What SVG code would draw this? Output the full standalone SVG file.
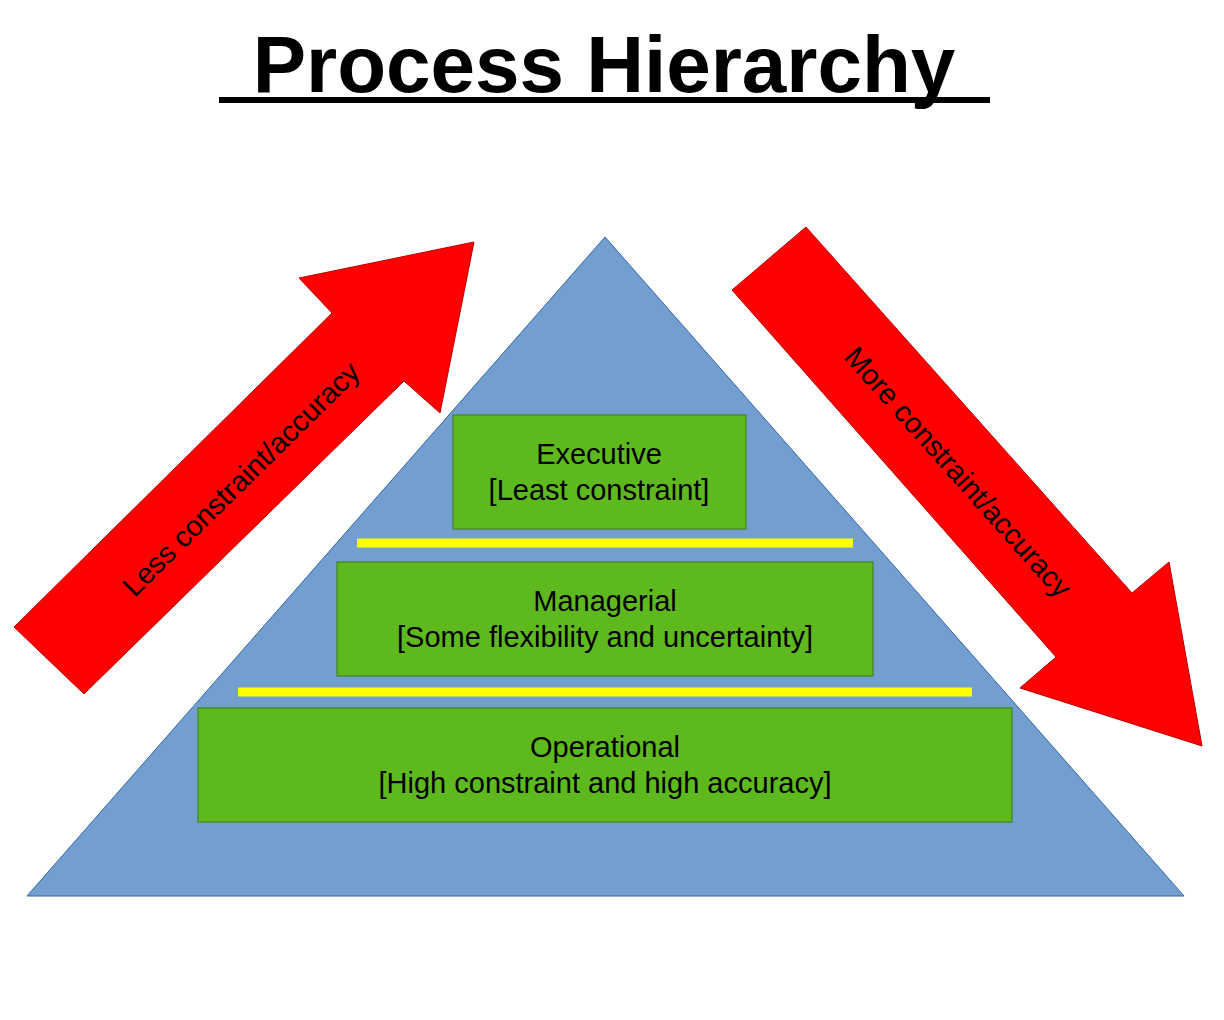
<svg xmlns="http://www.w3.org/2000/svg" width="1224" height="1020" viewBox="0 0 1224 1020">
<style>
text{font-family:"Liberation Sans",Arial,sans-serif;fill:#000}
.box{fill:#5eb91e;stroke:#3b7d12;stroke-width:1}
.lbl{font-size:29px;text-anchor:middle}
.arr{fill:#ff0000;stroke:#c00000;stroke-width:1}
.sep{stroke:#ffff00;stroke-width:9}
</style>
<rect width="1224" height="1020" fill="#fff"/>
<g id="title">
<text x="604" y="92" font-size="80" font-weight="bold" text-anchor="middle">Process Hierarchy</text>
<rect x="219" y="97" width="771" height="6" fill="#000"/>
</g>
<g id="pyramid"><polygon points="605,237 27,896 1184,896" fill="#729fcf" stroke="#3465a4" stroke-width="1"/></g>
<g id="connectors">
<polygon class="arr" points="14,627 332,313 299,278 474,242 440,413 404,381 84,694"/>
<polygon class="arr" points="806,227 1132,593 1169,562 1202,746 1020,688 1056,657 732,290"/>
<line class="sep" x1="357" y1="543" x2="853" y2="543"/>
<line class="sep" x1="238" y1="692" x2="972" y2="692"/>
</g>
<g id="arrow-left-label"><text class="lbl" transform="translate(241,479) rotate(-44.6)" dy="10">Less constraint/accuracy</text></g>
<g id="arrow-right-label"><text class="lbl" transform="translate(958,472) rotate(48.3)" dy="10">More constraint/accuracy</text></g>
<g id="executive"><rect class="box" x="453" y="415" width="293" height="114"/>
<text class="lbl" x="599" y="464">Executive</text><text class="lbl" x="599" y="500">[Least constraint]</text></g>
<g id="managerial"><rect class="box" x="337" y="562" width="536" height="114"/>
<text class="lbl" x="605" y="611">Managerial</text><text class="lbl" x="605" y="647">[Some flexibility and uncertainty]</text></g>
<g id="operational"><rect class="box" x="198" y="708" width="814" height="114"/>
<text class="lbl" x="605" y="757">Operational</text><text class="lbl" x="605" y="793">[High constraint and high accuracy]</text></g>
</svg>
